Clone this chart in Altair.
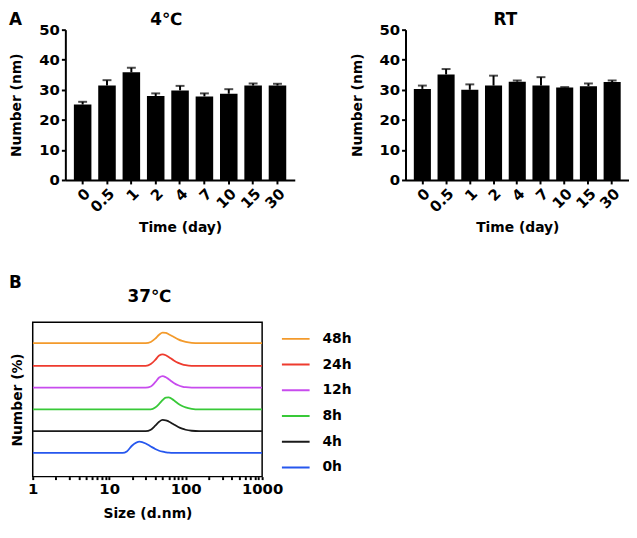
import altair as alt
import pandas as pd

FONT = "DejaVu Sans"

# ---------------- Panel A data ----------------
days = ["0", "0.5", "1", "2", "4", "7", "10", "15", "30"]
mean_4c = [25.1, 31.4, 35.8, 27.9, 29.8, 27.8, 28.7, 31.4, 31.4]
upper_4c = [26.0, 33.2, 37.3, 28.8, 31.3, 28.8, 30.2, 32.1, 32.0]
mean_rt = [30.3, 35.1, 30.0, 31.4, 32.7, 31.4, 30.8, 31.2, 32.6]
upper_rt = [31.4, 36.9, 31.8, 34.7, 33.1, 34.2, 30.9, 32.1, 33.1]
y_ticks = [0, 10, 20, 30, 40, 50]

# ---------------- Panel B data ----------------
series = ["48h", "24h", "12h", "8h", "4h", "0h"]
colors = ["#F39A2B", "#EE3B2E", "#C84CEE", "#38C938", "#1A1A1A", "#2657EE"]
offsets = [111, 88, 66, 44, 22, 0]
size_common = [1, 15, 20, 25, 30, 35, 40, 45, 50, 55, 60, 70, 80, 90, 100, 120, 150, 1000]
h_48 = [0, 0, 0, 0, 0, 1.2, 4.5, 8.5, 10.6, 10.3, 9.0, 6.2, 3.8, 2.2, 1.2, 0.3, 0, 0]
h_24 = [0, 0, 0, 0, 0, 1.8, 6.0, 10.5, 11.7, 10.8, 9.0, 5.5, 3.0, 1.5, 0.7, 0.1, 0, 0]
h_12 = [0, 0, 0, 0, 0, 1.2, 5.5, 10.2, 11.7, 10.5, 8.5, 4.8, 2.4, 1.1, 0.4, 0, 0, 0]
h_8 = [0, 0, 0, 0, 0, 0, 1.8, 5.5, 9.5, 12.0, 12.2, 9.2, 5.8, 3.5, 2.0, 0.6, 0, 0]
h_4 = [0, 0, 0, 0, 0, 1.5, 5.5, 9.5, 11.3, 11.0, 9.8, 6.8, 4.2, 2.5, 1.4, 0.4, 0, 0]
size_0h = [1, 15, 17, 20, 25, 30, 35, 40, 45, 50, 55, 60, 70, 1000]
h_0 = [0, 0, 1.5, 7.5, 11.3, 9.5, 6.5, 4.0, 2.2, 1.2, 0.6, 0.2, 0, 0]
x_ticks_b = [1, 2, 3, 4, 5, 6, 7, 8, 9, 10, 20, 30, 40, 50, 60, 70, 80, 90,
             100, 200, 300, 400, 500, 600, 700, 800, 900, 1000]

curve_sizes = [size_common, size_common, size_common, size_common, size_common, size_0h]
curve_heights = [h_48, h_24, h_12, h_8, h_4, h_0]

rows = []
for name, off, xs, hs in zip(series, offsets, curve_sizes, curve_heights):
    for i, (s, h) in enumerate(zip(xs, hs)):
        rows.append({"series": name, "size": s, "y": off + h, "order": i})
df_b = pd.DataFrame(rows)


def text_layer(txt, x, y, size=17, align="center"):
    return alt.Chart(pd.DataFrame({"t": [txt]})).mark_text(
        font=FONT, fontWeight="bold", fontSize=size, align=align,
        baseline="alphabetic", color="black").encode(
        text="t:N", x=alt.value(x), y=alt.value(y))


def bar_panel(title, means, uppers, width, title_x, label=None):
    df = pd.DataFrame({"day": days, "mean": means, "upper": uppers})
    base = alt.Chart(df)
    x_scale = alt.Scale(paddingInner=0.28, paddingOuter=0.35)
    x_axis = alt.Axis(labelAngle=-45, titlePadding=6)
    y_scale = alt.Scale(domain=[0, 50], nice=False)
    y_axis = alt.Axis(values=y_ticks, titlePadding=15, labelOverlap=False)
    x = alt.X("day:N", sort=days, title="Time (day)", scale=x_scale, axis=x_axis)
    bars = base.mark_bar(color="black").encode(
        x=x, y=alt.Y("mean:Q", title="Number (nm)", scale=y_scale, axis=y_axis))
    rule = base.mark_rule(color="black", strokeWidth=2).encode(
        x=x, y=alt.Y("mean:Q", title="Number (nm)", scale=y_scale, axis=y_axis),
        y2="upper:Q")
    cap = base.mark_tick(color="black", thickness=2, size=9).encode(
        x=x, y=alt.Y("upper:Q", title="Number (nm)", scale=y_scale, axis=y_axis))
    layers = [bars, rule, cap, text_layer(title, title_x, -5)]
    if label:
        layers.append(text_layer(label, -57, -5, align="left"))
    return alt.layer(*layers).properties(width=width, height=152)


left = bar_panel("4℃", mean_4c, upper_4c, 232, 102, label="A")
right = bar_panel("RT", mean_rt, upper_rt, 226, 101)

axis_b = alt.Axis(values=x_ticks_b, domain=False, tickSize=3, labelFlush=False,
                  labelOverlap=False, labelFontSize=15, titlePadding=10,
                  labelExpr="(datum.value==1||datum.value==10||datum.value==100||datum.value==1000) ? format(datum.value,'d') : ''")

lines = alt.Chart(df_b).mark_line(strokeWidth=1.8, interpolate="monotone", clip=True).encode(
    x=alt.X("size:Q", title="Size (d.nm)",
            scale=alt.Scale(type="log", domain=[1, 1000], nice=False), axis=axis_b),
    y=alt.Y("y:Q", title="Number (%)",
            scale=alt.Scale(domain=[-24, 132], nice=False, zero=False),
            axis=alt.Axis(domain=False, ticks=False, labels=False, titlePadding=8)),
    color=alt.Color("series:N",
                    scale=alt.Scale(domain=series, range=colors),
                    legend=alt.Legend(title=None, orient="none", legendX=251, legendY=4,
                                      symbolType="stroke", symbolSize=784,
                                      symbolStrokeWidth=2, rowPadding=0, clipHeight=25.4,
                                      labelFontSize=14, labelFont=FONT,
                                      labelFontWeight="bold", labelColor="black",
                                      padding=0, labelOffset=12)),
    detail="series:N",
    order="order:Q",
)

panel_b = alt.layer(
    lines,
    text_layer("37℃", 118, -21),
    text_layer("B", -24, -35, align="left"),
).properties(
    width=232, height=156,
    view=alt.ViewBackground(stroke="black", strokeWidth=1.5),
)

# empty layout spacer: lets panel B's plot sit further left than panel A's
spacer = alt.Chart(pd.DataFrame({"t": [0]})).mark_text(text="").encode(
    x=alt.value(0), y=alt.value(0)).properties(width=1, height=1)

top_row = alt.hconcat(spacer, alt.hconcat(left, right, spacing=56), spacing=-25)

chart = alt.vconcat(
    top_row,
    panel_b,
    spacing=38,
).resolve_scale(
    color="independent"
).properties(
    padding={"left": 0, "top": 0, "right": 0, "bottom": 0}
).configure_view(
    strokeWidth=0
).configure_axis(
    grid=False,
    domainColor="black", domainWidth=2,
    tickColor="black", tickWidth=2, tickSize=4,
    labelFont=FONT, labelFontSize=15, labelFontWeight="bold", labelColor="black",
    labelPadding=2,
    titleFont=FONT, titleFontSize=14, titleFontWeight="bold", titleColor="black",
)

chart.save("out.html", embed_options={"renderer": "svg", "actions": False})
